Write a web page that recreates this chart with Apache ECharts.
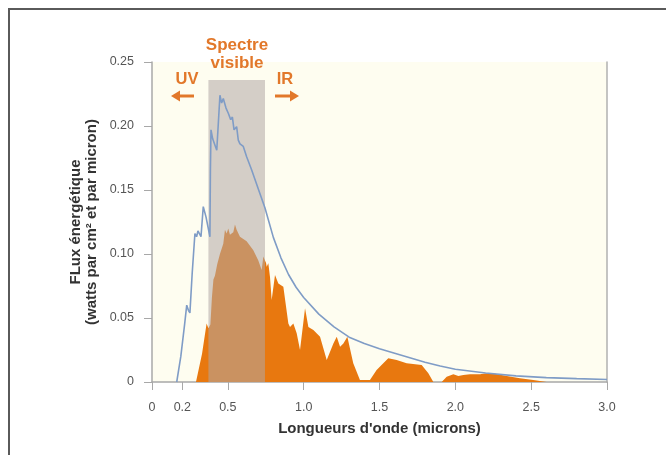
<!DOCTYPE html>
<html><head><meta charset="utf-8">
<script src="https://cdn.jsdelivr.net/npm/echarts@6/dist/echarts.min.js"></script>
<style>html,body{margin:0;padding:0;background:#fff}#c{width:666px;height:455px}</style>
</head><body><div id="c"></div>
<script>
var xTicks = [0, 0.2, 0.5, 1.0, 1.5, 2.0, 2.5, 3.0];
var visibleBand = [0.372, 0.745];
var bandTop = 0.236;
var blueX = [0.163,0.19,0.215,0.229,0.24,0.25,0.265,0.283,0.294,0.303,0.312,0.323,0.338,0.356,0.382,0.385,0.389,0.40,0.427,0.448,0.459,0.47,0.488,0.503,0.519,0.53,0.541,0.558,0.569,0.58,0.602,0.624,0.656,0.712,0.745,0.80,0.85,0.90,0.95,1.0,1.1,1.2,1.3,1.4,1.5,1.6,1.7,1.8,1.9,2.0,2.2,2.4,2.6,2.8,3.0];
var blueY = [0,0.02,0.045,0.060,0.056,0.054,0.085,0.116,0.1135,0.118,0.117,0.1135,0.137,0.129,0.1135,0.165,0.197,0.19,0.181,0.224,0.218,0.2215,0.214,0.21,0.205,0.207,0.197,0.1995,0.189,0.186,0.184,0.176,0.166,0.147,0.136,0.113,0.097,0.084,0.074,0.066,0.053,0.043,0.035,0.030,0.026,0.0225,0.019,0.0155,0.0125,0.010,0.007,0.0048,0.0034,0.0026,0.002];
var orangeX = [0.29,0.33,0.36,0.372,0.385,0.395,0.405,0.415,0.43,0.448,0.47,0.481,0.492,0.503,0.514,0.536,0.547,0.558,0.58,0.624,0.668,0.701,0.723,0.734,0.752,0.756,0.767,0.778,0.789,0.811,0.833,0.866,0.899,0.910,0.932,0.954,0.976,1.009,1.031,1.064,1.108,1.152,1.196,1.218,1.240,1.262,1.288,1.327,1.371,1.437,1.481,1.525,1.558,1.613,1.679,1.778,1.822,1.855,1.910,1.943,1.987,2.020,2.053,2.097,2.163,2.207,2.273,2.339,2.426,2.514,2.602];
var orangeY = [0,0.022,0.0458,0.042,0.045,0.066,0.080,0.083,0.092,0.100,0.108,0.119,0.116,0.120,0.115,0.117,0.123,0.119,0.1135,0.110,0.103,0.095,0.0875,0.098,0.093,0.090,0.0927,0.082,0.064,0.0836,0.077,0.0745,0.0458,0.043,0.0458,0.038,0.025,0.0576,0.043,0.0406,0.0354,0.0172,0.030,0.0354,0.0276,0.030,0.0354,0.0146,0.0015,0.0015,0.0094,0.0146,0.0185,0.0172,0.0146,0.0133,0.0068,0,0,0.0041,0.006,0.0047,0.0055,0.006,0.006,0.0068,0.0063,0.0047,0.0029,0.0016,0];

function pairs(xs, ys){ return xs.map(function(x,i){ return [x, ys[i]]; }); }
var FONT = '"Liberation Sans", Arial, Helvetica, sans-serif';
var ORANGE = '#e2782a';
var chart = echarts.init(document.getElementById('c'), null, {renderer:'canvas'});
chart.setOption({
  animation: false,
  backgroundColor: '#ffffff',
  grid: {left:152, right:59, top:62, bottom:73, show:true, backgroundColor:'#fefdf0', borderWidth:0},
  xAxis: {
    type:'value', min:0, max:3,
    name:"Longueurs d'onde (microns)", nameLocation:'middle', nameGap:39,
    nameTextStyle:{fontFamily:FONT, fontSize:15, fontWeight:'bold', color:'#333'},
    axisLine:{show:true, lineStyle:{color:'#a8a8a8', width:1.5}},
    axisTick:{show:true, length:8, customValues:xTicks, lineStyle:{color:'#a8a8a8'}},
    axisLabel:{customValues:xTicks, margin:19, fontFamily:FONT, fontSize:12.5, color:'#555',
      formatter:function(v){ return v===0 ? '0' : (Math.abs(v-0.2)<1e-9 ? '0.2' : v.toFixed(1)); }},
    splitLine:{show:false}
  },
  yAxis: [{
    type:'value', min:0, max:0.25, interval:0.05,
    name:'FLux énergétique\n(watts par cm² et par micron)', nameLocation:'middle', nameGap:52,
    nameMoveOverlap:false,
    nameTextStyle:{fontFamily:FONT, fontSize:15, fontWeight:'bold', color:'#333', lineHeight:16},
    axisLine:{show:true, lineStyle:{color:'#a8a8a8', width:1.5}},
    axisTick:{show:true, length:8, lineStyle:{color:'#a8a8a8'}},
    axisLabel:{margin:18, fontFamily:FONT, fontSize:12.5, color:'#555',
      formatter:function(v){ return v===0 ? '0' : v.toFixed(2); }},
    splitLine:{show:false}
  },{
    type:'value', min:0, max:0.25, position:'right',
    axisLine:{show:true, lineStyle:{color:'#b0b0b0', width:1.5}},
    axisTick:{show:false}, axisLabel:{show:false}, splitLine:{show:false}
  }],
  series: [
    {type:'line', name:'surface', data:pairs(orangeX, orangeY), symbol:'none', z:2,
     lineStyle:{width:0}, areaStyle:{color:'#e8780f', opacity:1}, itemStyle:{color:'#e8780f'}},
    {type:'line', name:'band', data:[], z:3,
     markArea:{silent:true, z:3, itemStyle:{color:'rgba(177,167,165,0.55)'},
       data:[[{xAxis:visibleBand[0], yAxis:0},{xAxis:visibleBand[1], yAxis:bandTop}]]}},
    {type:'line', name:'sun', data:pairs(blueX, blueY), symbol:'none', z:4,
     lineStyle:{width:1.6, color:'#7f9cc6'}, itemStyle:{color:'#7f9cc6'}}
  ],
  graphic: [
    {type:'rect', shape:{x:9, y:9, width:720, height:520}, style:{fill:'none', stroke:'#5a5a5a', lineWidth:2}, z:100},
    {type:'text', x:237, y:45, style:{text:'Spectre', fontFamily:FONT, fontSize:17, fontWeight:'bold', fill:ORANGE, textAlign:'center', textVerticalAlign:'middle'}},
    {type:'text', x:237, y:63, style:{text:'visible', fontFamily:FONT, fontSize:17, fontWeight:'bold', fill:ORANGE, textAlign:'center', textVerticalAlign:'middle'}},
    {type:'text', x:187, y:79, style:{text:'UV', fontFamily:FONT, fontSize:16.5, fontWeight:'bold', fill:ORANGE, textAlign:'center', textVerticalAlign:'middle'}},
    {type:'text', x:285, y:79, style:{text:'IR', fontFamily:FONT, fontSize:16.5, fontWeight:'bold', fill:ORANGE, textAlign:'center', textVerticalAlign:'middle'}},
    {type:'line', shape:{x1:178, y1:96, x2:194, y2:96}, style:{stroke:ORANGE, lineWidth:3}},
    {type:'polygon', shape:{points:[[171,96],[180,90.5],[180,101.5]]}, style:{fill:ORANGE}},
    {type:'line', shape:{x1:275, y1:96, x2:292, y2:96}, style:{stroke:ORANGE, lineWidth:3}},
    {type:'polygon', shape:{points:[[299,96],[290,90.5],[290,101.5]]}, style:{fill:ORANGE}}
  ]
});
</script></body></html>
